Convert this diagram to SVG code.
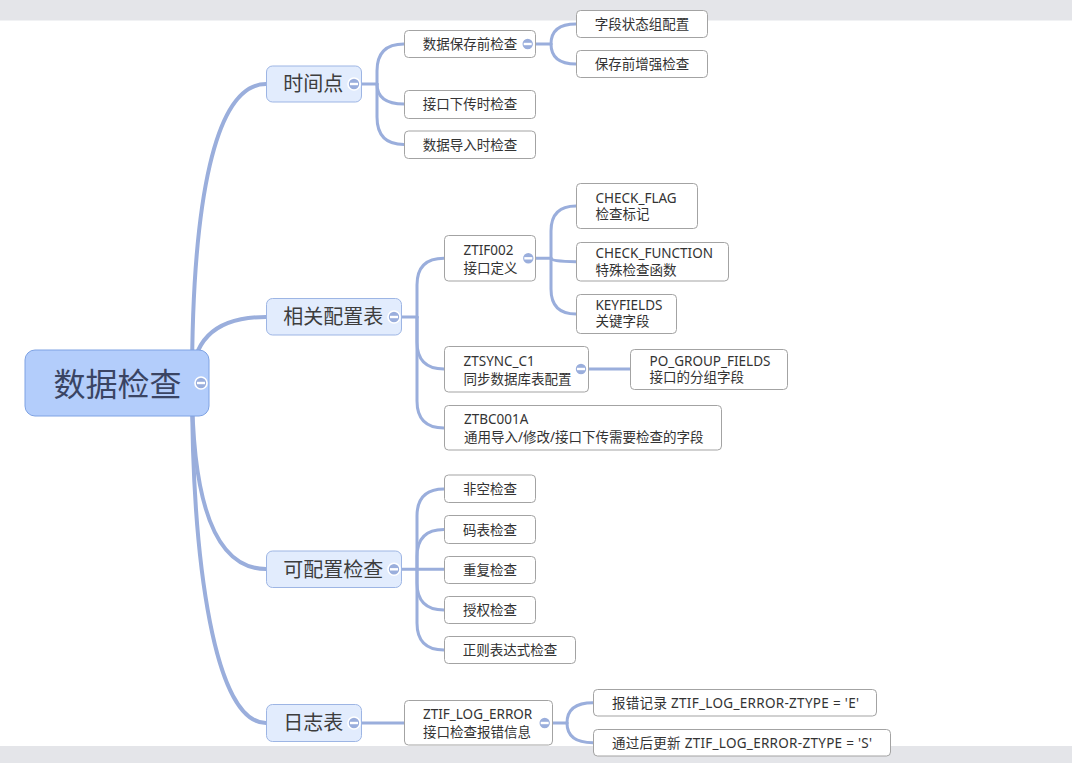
<svg xmlns="http://www.w3.org/2000/svg" xmlns:xlink="http://www.w3.org/1999/xlink" width="1072" height="763" viewBox="0 0 1072 763">
<style>
.band{fill:#e4e5e9}
.c{fill:none;stroke:#9aaedc;stroke-width:3;stroke-linecap:round}
.c0{stroke-width:4}
.root rect{fill:#b3cdfb;stroke:#7ea2e3;stroke-width:1}
.l1 rect{fill:#e2ecfd;stroke:#9db5e4;stroke-width:1}
.n rect{fill:#ffffff;stroke:#a3a3a3;stroke-width:1}
text{font-family:"Noto Sans","Noto Sans CJK SC",sans-serif}
.root text{font-size:32px;fill:#3a4463}
.l1 text{font-size:20px;fill:#3d3d3d}
.n text{font-size:13.5px;fill:#333333}
.mid{text-anchor:middle}
</style>
<defs>
<g id="btn">
<circle r="6" fill="#9aaedc" stroke="#ffffff" stroke-width="1.6"/>
<rect x="-4" y="-1.2" width="8" height="2.4" fill="#ffffff"/>
</g>
</defs>
<rect width="1072" height="763" fill="#ffffff"/>
<rect class="band" x="0" y="0" width="1072" height="20.5"/>
<rect class="band" x="0" y="746" width="1072" height="17"/>
<g id="connectors">
<path class="c c0" d="M192,383 C192,200 215,84 266,84"/>
<path class="c c0" d="M192,383 Q192,317 266,317"/>
<path class="c c0" d="M192,383 Q192,569 266,569"/>
<path class="c c0" d="M192,383 C192,566 215,723 266,723"/>
<path class="c" d="M361,84 H377"/>
<path class="c" d="M377,84 V71 Q377,44 404,44"/>
<path class="c" d="M377,84 Q377,104 404,104"/>
<path class="c" d="M377,84 V117 Q377,144.5 404,144.5"/>
<path class="c" d="M535,44 H551"/>
<path class="c" d="M551,44 Q551,24 576,24"/>
<path class="c" d="M551,44 Q551,64 576,64"/>
<path class="c" d="M401,317 H417"/>
<path class="c" d="M417,317 V285 Q417,258.3 444,258.3"/>
<path class="c" d="M417,317 V342 Q417,369 444,369"/>
<path class="c" d="M417,317 V401 Q417,428 444,428"/>
<path class="c" d="M535,258.3 H551"/>
<path class="c" d="M551,258.3 V231 Q551,206 576,206"/>
<path class="c" d="M551,258.3 Q551,261.7 576,261.7"/>
<path class="c" d="M551,258.3 V289 Q551,314 576,314"/>
<path class="c" d="M588,369 H630"/>
<path class="c" d="M401,569.3 H444"/>
<path class="c" d="M417,569.3 V516 Q417,489 444,489"/>
<path class="c" d="M417,569.3 V556.5 Q417,529.5 444,529.5"/>
<path class="c" d="M417,569.3 V583 Q417,610 444,610"/>
<path class="c" d="M417,569.3 V623 Q417,650 444,650"/>
<path class="c" d="M361,723 H404"/>
<path class="c" d="M552,723 H567"/>
<path class="c" d="M567,723 Q567,702.7 593,702.7"/>
<path class="c" d="M567,723 Q567,742.7 593,742.7"/>
</g>
<g id="n-root" class="root">
<rect x="25" y="350" width="184" height="66" rx="10"/>
<text x="117.5" y="396" class="mid">数据检查</text>
<use xlink:href="#btn" href="#btn" x="201" y="383"/>
</g>
<g id="n-shijiandian" class="l1">
<rect x="266.5" y="66" width="95" height="36" rx="6"/>
<text x="283.3" y="91">时间点</text>
<use href="#btn" xlink:href="#btn" x="354" y="84"/>
</g>
<g id="n-xiangguan" class="l1">
<rect x="266.5" y="298.5" width="135" height="36.5" rx="6"/>
<text x="283.3" y="324">相关配置表</text>
<use href="#btn" xlink:href="#btn" x="394" y="317"/>
</g>
<g id="n-kepeizhi" class="l1">
<rect x="266.5" y="551" width="135" height="36.5" rx="6"/>
<text x="283.3" y="576.5">可配置检查</text>
<use href="#btn" xlink:href="#btn" x="394" y="569.3"/>
</g>
<g id="n-rizhi" class="l1">
<rect x="266.5" y="704.5" width="95" height="37" rx="6"/>
<text x="283.3" y="730">日志表</text>
<use href="#btn" xlink:href="#btn" x="354" y="723"/>
</g>
<g id="n-baocunqian" class="n">
<rect x="404.5" y="30.5" width="131" height="27" rx="4"/>
<text x="470" y="48.5" class="mid">数据保存前检查</text>
<use href="#btn" xlink:href="#btn" x="527.7" y="44"/>
</g>
<g id="n-ziduan" class="n">
<rect x="576.5" y="10.5" width="131" height="27" rx="4"/>
<text x="642" y="28.5" class="mid">字段状态组配置</text>
</g>
<g id="n-zengqiang" class="n">
<rect x="576.5" y="50.5" width="131" height="27" rx="4"/>
<text x="642" y="68.5" class="mid">保存前增强检查</text>
</g>
<g id="n-xiachuan" class="n">
<rect x="404.5" y="90.5" width="131" height="28" rx="4"/>
<text x="470" y="109" class="mid">接口下传时检查</text>
</g>
<g id="n-daoru" class="n">
<rect x="404.5" y="131" width="131" height="27.5" rx="4"/>
<text x="470" y="149.5" class="mid">数据导入时检查</text>
</g>
<g id="n-ztif002" class="n">
<rect x="444.5" y="235.5" width="91" height="45.5" rx="4"/>
<text x="463.5" y="255">ZTIF002</text>
<text x="463.5" y="272.5">接口定义</text>
<use href="#btn" xlink:href="#btn" x="528.3" y="258.3"/>
</g>
<g id="n-checkflag" class="n">
<rect x="576.5" y="183.5" width="121" height="45" rx="4"/>
<text x="595.5" y="202.5">CHECK_FLAG</text>
<text x="595.5" y="219">检查标记</text>
</g>
<g id="n-checkfunction" class="n">
<rect x="576.5" y="242.5" width="152" height="38.5" rx="4"/>
<text x="595.5" y="258">CHECK_FUNCTION</text>
<text x="595.5" y="274.5">特殊检查函数</text>
</g>
<g id="n-keyfields" class="n">
<rect x="576.5" y="294.5" width="100" height="39" rx="4"/>
<text x="595.5" y="309.5">KEYFIELDS</text>
<text x="595.5" y="326">关键字段</text>
</g>
<g id="n-ztsync" class="n">
<rect x="444.5" y="346.5" width="144" height="45.5" rx="4"/>
<text x="463.5" y="365.5">ZTSYNC_C1</text>
<text x="463.5" y="384">同步数据库表配置</text>
<use href="#btn" xlink:href="#btn" x="581" y="369"/>
</g>
<g id="n-pogroup" class="n">
<rect x="630.5" y="349.5" width="157" height="40" rx="4"/>
<text x="649.5" y="365.5">PO_GROUP_FIELDS</text>
<text x="649.5" y="382">接口的分组字段</text>
</g>
<g id="n-ztbc001a" class="n">
<rect x="444.5" y="405.5" width="277" height="44.5" rx="4"/>
<text x="464" y="423.5">ZTBC001A</text>
<text x="464" y="441.5">通用导入/修改/接口下传需要检查的字段</text>
</g>
<g id="n-feikong" class="n">
<rect x="444.5" y="475" width="91" height="27.5" rx="4"/>
<text x="490" y="494" class="mid">非空检查</text>
</g>
<g id="n-mabiao" class="n">
<rect x="444.5" y="515.5" width="91" height="28" rx="4"/>
<text x="490" y="534.5" class="mid">码表检查</text>
</g>
<g id="n-chongfu" class="n">
<rect x="444.5" y="556.5" width="91" height="27" rx="4"/>
<text x="490" y="575" class="mid">重复检查</text>
</g>
<g id="n-shouquan" class="n">
<rect x="444.5" y="596.5" width="91" height="27" rx="4"/>
<text x="490" y="615" class="mid">授权检查</text>
</g>
<g id="n-zhengze" class="n">
<rect x="444.5" y="636.5" width="131" height="27" rx="4"/>
<text x="510" y="655" class="mid">正则表达式检查</text>
</g>
<g id="n-logerror" class="n">
<rect x="404.5" y="700.5" width="148" height="44.5" rx="4"/>
<text x="423" y="719">ZTIF_LOG_ERROR</text>
<text x="423" y="737">接口检查报错信息</text>
<use href="#btn" xlink:href="#btn" x="544.7" y="723"/>
</g>
<g id="n-baocuo" class="n">
<rect x="593.5" y="689.5" width="283" height="26.5" rx="4"/>
<text x="612" y="708" textLength="247" lengthAdjust="spacing">报错记录 ZTIF_LOG_ERROR-ZTYPE = 'E'</text>
</g>
<g id="n-tongguo" class="n">
<rect x="593.5" y="729.5" width="297" height="26.5" rx="4"/>
<text x="612" y="748" textLength="260" lengthAdjust="spacing">通过后更新 ZTIF_LOG_ERROR-ZTYPE = 'S'</text>
</g>
</svg>
